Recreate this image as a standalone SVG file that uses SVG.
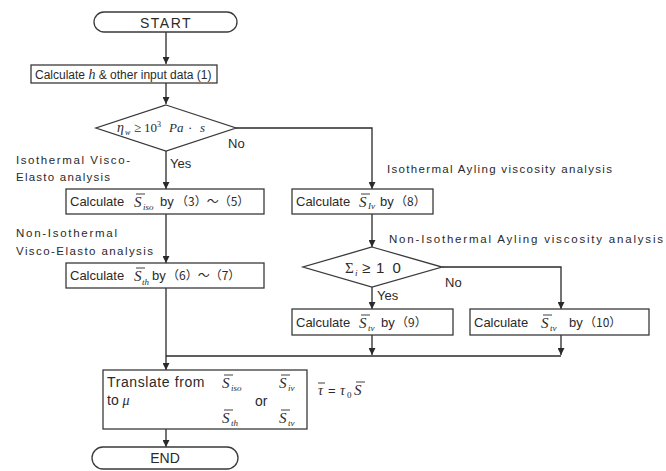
<svg xmlns="http://www.w3.org/2000/svg" width="666" height="471" viewBox="0 0 666 471">
  <defs>
    <marker id="arr" viewBox="0 0 10 10" refX="10" refY="5" markerWidth="7" markerHeight="7" markerUnits="userSpaceOnUse" orient="auto">
      <path d="M0,0 L10,5 L0,10 z" fill="#2a2a2a"/>
    </marker>
    <style>
      .shape { fill: #fff; stroke: #3a3a3a; stroke-width: 1.3; }
      .line { fill: none; stroke: #2a2a2a; stroke-width: 1.3; }
      .t { font-family: "Liberation Sans", "Noto Sans CJK JP", sans-serif; font-size: 13px; fill: #2a2a2a; }
      .p { font-family: "Noto Sans CJK JP", sans-serif; font-size: 12px; fill: #2a2a2a; }
      .note { font-family: "Liberation Sans", "Noto Sans CJK JP", sans-serif; font-size: 11.5px; fill: #2a2a2a; }
      .m { font-family: "Liberation Serif", serif; font-style: italic; font-size: 15px; fill: #2a2a2a; }
      .sub { font-family: "Liberation Serif", serif; font-style: italic; font-size: 9px; fill: #2a2a2a; }
      .up { font-family: "Liberation Serif", serif; font-size: 13px; fill: #2a2a2a; }
      .bar { stroke: #2a2a2a; stroke-width: 0.9; }
    </style>
  </defs>
  <rect width="666" height="471" fill="#fff"/>

  <!-- connectors -->
  <g id="connectors">
    <path class="line" d="M166,32 V64" marker-end="url(#arr)"/>
    <path class="line" d="M166,83 V104" marker-end="url(#arr)"/>
    <path class="line" d="M166,151 V189" marker-end="url(#arr)"/>
    <path class="line" d="M166,214 V263" marker-end="url(#arr)"/>
    <path class="line" d="M236,128 H372 V189" marker-end="url(#arr)"/>
    <path class="line" d="M372,214 V247" marker-end="url(#arr)"/>
    <path class="line" d="M372,287 V309" marker-end="url(#arr)"/>
    <path class="line" d="M442,267 H561 V309" marker-end="url(#arr)"/>
    <path class="line" d="M372,335 V355" marker-end="url(#arr)"/>
    <path class="line" d="M561,335 V355" marker-end="url(#arr)"/>
    <path class="line" d="M166,356 H561"/>
    <path class="line" d="M166,288 V370" marker-end="url(#arr)"/>
    <path class="line" d="M166,429 V447" marker-end="url(#arr)"/>
  </g>

  <!-- branch and analysis labels -->
  <g id="labels">
    <text class="t" x="228" y="148">No</text>
    <text class="t" x="170" y="168">Yes</text>
    <text class="note" x="16" y="164" textLength="114">Isothermal Visco-</text>
    <text class="note" x="16" y="181" textLength="94">Elasto analysis</text>
    <text class="note" x="16" y="237" textLength="101">Non-Isothermal</text>
    <text class="note" x="16" y="255" textLength="137">Visco-Elasto analysis</text>
    <text class="note" x="387" y="173" textLength="225">Isothermal Ayling viscosity analysis</text>
    <text class="note" x="389" y="243" textLength="274">Non-Isothermal Ayling viscosity  analysis</text>
    <text class="t" x="445" y="287">No</text>
    <text class="t" x="377" y="300">Yes</text>
  </g>

  <g id="start">
    <rect class="shape" x="94" y="12" width="143" height="20" rx="10" ry="10"/>
    <text class="t" x="166" y="28" text-anchor="middle" style="font-size:14px;letter-spacing:1.5px">START</text>
  </g>

  <g id="input">
    <rect class="shape" x="31" y="65" width="186" height="18"/>
    <text class="t" x="35" y="79" style="font-size:12px">Calculate <tspan style="font-family:'Liberation Serif',serif;font-style:italic;font-size:14px">h</tspan> &amp; other input data (1)</text>
  </g>

  <g id="viscosity-check">
    <polygon class="shape" points="166,105 236,128 166,151 96,128"/>
    <text class="m" x="117" y="132" style="font-size:14px">η</text>
    <text class="sub" x="125" y="135" style="font-size:8px">w</text>
    <text class="up" x="134" y="132">≥</text>
    <text class="up" x="144" y="132">10</text>
    <text class="up" x="157" y="127" style="font-size:8px">3</text>
    <text class="m" x="169" y="132" style="font-size:13px">Pa</text>
    <text class="up" x="188" y="132">·</text>
    <text class="m" x="200" y="132" style="font-size:13px">s</text>
  </g>

  <g id="calc-iso">
    <rect class="shape" x="66" y="189" width="198" height="25"/>
    <text class="t" x="70" y="206">Calculate</text>
    <text class="m" x="134" y="207">S</text>
    <line class="bar" x1="136" y1="194" x2="145" y2="194"/>
    <text class="sub" x="143" y="210">iso</text>
    <text class="t" x="160" y="206">by</text>
    <text class="p" x="176" y="206">（3）〜（5）</text>
  </g>

  <g id="calc-th">
    <rect class="shape" x="66" y="263" width="198" height="25"/>
    <text class="t" x="70" y="280">Calculate</text>
    <text class="m" x="134" y="281">S</text>
    <line class="bar" x1="136" y1="268" x2="145" y2="268"/>
    <text class="sub" x="142" y="285">th</text>
    <text class="t" x="152" y="280">by</text>
    <text class="p" x="167" y="280">（6）〜（7）</text>
  </g>

  <g id="calc-iv">
    <rect class="shape" x="292" y="189" width="141" height="25"/>
    <text class="t" x="296" y="206">Calculate</text>
    <text class="m" x="359" y="207">S</text>
    <line class="bar" x1="361" y1="194" x2="370" y2="194"/>
    <text class="sub" x="368" y="209">Iv</text>
    <text class="t" x="380" y="206">by</text>
    <text class="p" x="395" y="206">（8）</text>
  </g>

  <g id="sum-check">
    <polygon class="shape" points="372,247 442,267 372,287 303,267"/>
    <text class="up" x="345" y="273" style="font-size:15px">Σ</text>
    <text class="sub" x="355" y="276">i</text>
    <text class="t" x="362" y="273" style="font-size:15px">≥</text>
    <text class="t" x="376" y="273" style="font-size:15px;letter-spacing:2px">1 0</text>
  </g>

  <g id="calc-tv-9">
    <rect class="shape" x="292" y="309" width="161" height="26"/>
    <text class="t" x="296" y="327">Calculate</text>
    <text class="m" x="359" y="328">S</text>
    <line class="bar" x1="361" y1="315" x2="370" y2="315"/>
    <text class="sub" x="368" y="331">tv</text>
    <text class="t" x="381" y="327">by</text>
    <text class="p" x="396" y="327">（9）</text>
  </g>

  <g id="calc-tv-10">
    <rect class="shape" x="470" y="309" width="179" height="26"/>
    <text class="t" x="474" y="327">Calculate</text>
    <text class="m" x="541" y="328">S</text>
    <line class="bar" x1="543" y1="315" x2="552" y2="315"/>
    <text class="sub" x="550" y="331">tv</text>
    <text class="t" x="569" y="327">by</text>
    <text class="p" x="584" y="327">（10）</text>
  </g>

  <g id="translate">
    <rect class="shape" x="103" y="370" width="204" height="59"/>
    <text class="t" x="107" y="387" style="font-size:14px;letter-spacing:0.6px">Translate from</text>
    <text class="t" x="107" y="405" style="font-size:14px">to <tspan style="font-family:'Liberation Serif',serif;font-style:italic;font-size:14px">μ</tspan></text>
    <text class="m" x="222" y="388">S</text>
    <line class="bar" x1="224" y1="375" x2="233" y2="375"/>
    <text class="sub" x="231" y="391">iso</text>
    <text class="m" x="222" y="423">S</text>
    <line class="bar" x1="224" y1="410" x2="233" y2="410"/>
    <text class="sub" x="231" y="426">th</text>
    <text class="t" x="255" y="406" style="font-size:14px">or</text>
    <text class="m" x="279" y="388">S</text>
    <line class="bar" x1="281" y1="375" x2="290" y2="375"/>
    <text class="sub" x="288" y="391">iv</text>
    <text class="m" x="279" y="423">S</text>
    <line class="bar" x1="281" y1="410" x2="290" y2="410"/>
    <text class="sub" x="288" y="426">tv</text>
  </g>

  <g id="stress-relation">
    <text class="m" x="318" y="395" style="font-size:14px">τ</text>
    <line class="bar" x1="318" y1="383" x2="325" y2="383"/>
    <text class="t" x="328" y="395">=</text>
    <text class="m" x="340" y="395" style="font-size:14px">τ</text>
    <text class="up" x="347" y="398" style="font-size:9px">0</text>
    <text class="m" x="354" y="395">S</text>
    <line class="bar" x1="356" y1="382" x2="365" y2="382"/>
  </g>

  <g id="end">
    <rect class="shape" x="92" y="447" width="146" height="22" rx="11" ry="11"/>
    <text class="t" x="165" y="463" text-anchor="middle" style="font-size:14px">END</text>
  </g>
</svg>
